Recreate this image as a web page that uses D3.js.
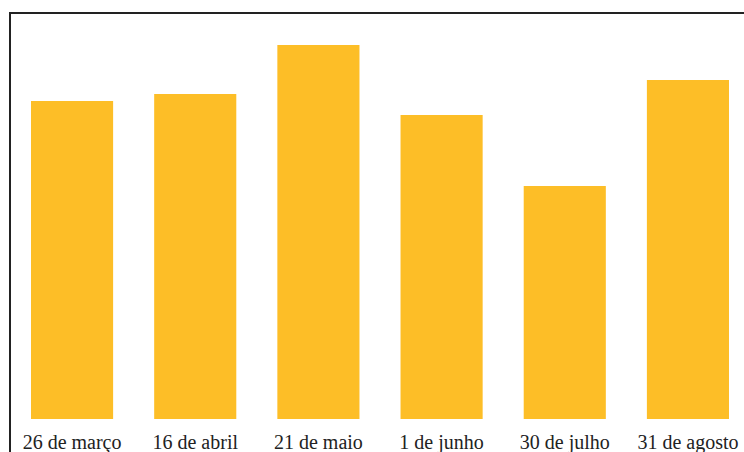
<!DOCTYPE html>
<html>
<head>
<meta charset="utf-8">
<script src="https://cdn.jsdelivr.net/npm/d3@7"></script>
<style>
  body { margin: 0; background: #fff; }
  .labels { font-family: "Liberation Serif", "Times New Roman", serif; font-size: 20px; fill: #222; }
</style>
</head>
<body>
<script>
// Bar categories and values
var categories = ["26 de março", "16 de abril", "21 de maio", "1 de junho", "30 de julho", "31 de agosto"];
var values = [318, 325, 374, 304, 233, 339];

var width = 744;
var height = 452;

var svg = d3.select("body").append("svg")
          .attr("width", width)
          .attr("height", height);

// Frame round the chart
svg.append("rect")
     .attr("x", 10)
     .attr("y", 13)
     .attr("width", 800)
     .attr("height", 500)
     .style("fill", "none")
     .style("stroke", "#222")
     .style("stroke-width", 2);

// Scales
var xScale = d3.scaleBand()
                .domain(categories)
                .range([31, 729])
                .paddingInner(1 / 3)
                .paddingOuter(0);

var yScale = d3.scaleLinear()
                .domain([0, 407])
                .range([419, 12]);

// Bars
svg.selectAll(".bar")
     .data(values)
     .enter()
     .append("rect")
     .attr("class", "bar")
     .attr("x", function(d, i) { return xScale(categories[i]); })
     .attr("y", function(d) { return yScale(d); })
     .attr("width", xScale.bandwidth())
     .attr("height", function(d) { return yScale(0) - yScale(d); })
     .style("fill", "#FDBE27");

// Category labels
var xAxis = d3.axisBottom(xScale).tickSize(0).tickPadding(0);
var axis = svg.append("g")
     .attr("transform", "translate(0, 419)")
     .call(xAxis);
axis.select(".domain").remove();
axis.attr("font-size", null).attr("font-family", null);
axis.selectAll("text")
     .attr("class", "labels")
     .attr("dy", null)
     .attr("y", 30);
</script>
</body>
</html>
